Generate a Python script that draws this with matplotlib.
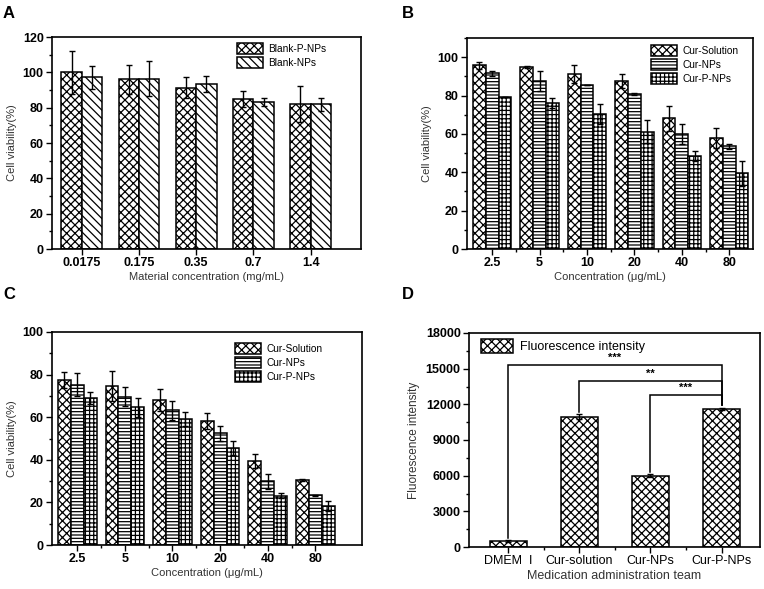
import numpy as np
import matplotlib
matplotlib.use("Agg")
import matplotlib.pyplot as plt
from matplotlib.ticker import MultipleLocator, FixedLocator

plt.rcParams['font.family'] = ['Liberation Sans', 'DejaVu Sans']
plt.rcParams['hatch.linewidth'] = 0.9
plt.rcParams['hatch.color'] = 'black'

# ---- panel A data ----
a_labels = ["0.0175", "0.175", "0.35", "0.7", "1.4"]
a_blank_p = [100.0, 96.0, 91.4, 85.0, 82.1]
a_blank_p_err = [12.2, 8.0, 5.8, 4.5, 10.0]
a_blank = [97.2, 96.4, 93.4, 83.3, 81.8]
a_blank_err = [6.5, 9.8, 4.7, 2.4, 3.8]

# ---- panel B data ----
b_labels = ["2.5", "5", "10", "20", "40", "80"]
b_sol = [95.7, 94.7, 91.1, 87.6, 68.1, 57.8]
b_sol_err = [2.0, 0.5, 4.6, 3.5, 6.7, 5.1]
b_nps = [91.6, 87.6, 85.7, 80.8, 59.8, 53.5]
b_nps_err = [1.3, 5.3, 0.0, 0.7, 5.2, 1.4]
b_pnps = [79.2, 76.1, 70.4, 61.2, 48.5, 39.4]
b_pnps_err = [0.2, 2.4, 5.0, 6.0, 2.4, 6.3]

# ---- panel C data ----
c_labels = ["2.5", "5", "10", "20", "40", "80"]
c_sol = [77.5, 74.7, 68.1, 58.3, 39.4, 30.6]
c_sol_err = [3.9, 6.9, 5.0, 3.9, 3.3, 0.5]
c_nps = [75.3, 69.7, 63.3, 52.4, 29.9, 23.4]
c_nps_err = [5.4, 4.5, 4.4, 3.7, 3.5, 0.3]
c_pnps = [69.2, 64.7, 59.1, 45.6, 23.1, 18.3]
c_pnps_err = [2.8, 4.4, 3.4, 3.2, 1.1, 2.5]

# ---- panel D data ----
d_labels = ["DMEM  I", "Cur-solution", "Cur-NPs", "Cur-P-NPs"]
d_vals = [500, 10950, 6000, 11600]
d_err = [60, 200, 100, 100]
# significance brackets
sig_left = [0, 1, 2]
sig_right = [3, 3, 3]
sig_height = [15300, 14000, 12800]
sig_left_foot = [760, 11340, 6300]
sig_right_foot = [11950, 11950, 11950]
sig_stars = ["***", "**", "***"]

W, H = 764, 589
fig = plt.figure(figsize=(W / 100, H / 100), dpi=100)


def make_axes(l, r, t, b):
    return fig.add_axes([l / W, 1 - b / H, (r - l) / W, (b - t) / H])


def style(ax, ylabel, xlabel, xbold=True, xsize=9):
    for s in ax.spines.values():
        s.set_linewidth(1.2)
    ax.tick_params(axis='both', which='major', direction='out', length=4, width=1,
                   labelsize=9, pad=2)
    ax.tick_params(axis='both', which='minor', direction='out', length=2.5, width=1)
    for t in ax.get_yticklabels():
        t.set_fontweight('bold')
    for t in ax.get_xticklabels():
        t.set_fontweight('bold' if xbold else 'normal')
        t.set_fontsize(xsize)
    ax.set_ylabel(ylabel, fontsize=8, color='#333333', labelpad=4)
    ax.set_xlabel(xlabel, fontsize=8, color='#333333', labelpad=2)


bar_kw = dict(edgecolor='black', linewidth=1.1, color='white')
err_kw = dict(fmt='none', ecolor='black', elinewidth=1, capsize=2.5, capthick=1)


def leg(ax, x, y, fs=7.3):
    ax.legend(loc='upper left', bbox_to_anchor=(x, y), frameon=False, fontsize=fs,
              borderpad=0, borderaxespad=0, handlelength=2.6, handleheight=1.3,
              labelspacing=0.3, handletextpad=0.5)


# ---------------- A ----------------
ax = make_axes(52, 361, 37, 249)
x = np.arange(len(a_labels))
w = 0.355
ax.bar(x - w / 2, a_blank_p, w, hatch='xxxx', label='Blank-P-NPs', **bar_kw)
ax.bar(x + w / 2, a_blank, w, hatch='\\\\\\\\', label='Blank-NPs', **bar_kw)
ax.errorbar(x - w / 2, a_blank_p, yerr=a_blank_p_err, **err_kw)
ax.errorbar(x + w / 2, a_blank, yerr=a_blank_err, **err_kw)
ax.set_xlim(-0.52, 4.88)
ax.set_ylim(0, 120)
ax.set_xticks(x)
ax.set_xticklabels(a_labels)
ax.yaxis.set_major_locator(MultipleLocator(20))
ax.yaxis.set_minor_locator(MultipleLocator(10))
ax.tick_params(axis='x', length=0)
style(ax, "Cell viability(%)", "Material concentration (mg/mL)")
leg(ax, 0.599, 0.972)


def three_series(ax, labels, s1, e1, s2, e2, s3, e3, xlim, ylim):
    x = np.arange(len(labels))
    w = 0.27
    ax.bar(x - w, s1, w, hatch='xxxx', label='Cur-Solution', **bar_kw)
    ax.bar(x, s2, w, hatch='-----', label='Cur-NPs', **bar_kw)
    ax.bar(x + w, s3, w, hatch='++++', label='Cur-P-NPs', **bar_kw)
    ax.errorbar(x - w, s1, yerr=e1, **err_kw)
    ax.errorbar(x, s2, yerr=e2, **err_kw)
    ax.errorbar(x + w, s3, yerr=e3, **err_kw)
    ax.set_xlim(*xlim)
    ax.set_ylim(*ylim)
    ax.set_xticks(x)
    ax.set_xticklabels(labels)
    ax.xaxis.set_minor_locator(FixedLocator(x[:-1] + 0.5))
    ax.yaxis.set_major_locator(MultipleLocator(20))
    ax.yaxis.set_minor_locator(MultipleLocator(10))


# ---------------- B ----------------
ax = make_axes(467, 753, 38, 249)
three_series(ax, b_labels, b_sol, b_sol_err, b_nps, b_nps_err, b_pnps, b_pnps_err,
             (-0.53, 5.5), (0, 110))
style(ax, "Cell viability(%)", "Concentration (μg/mL)")
leg(ax, 0.643, 0.967)

# ---------------- C ----------------
ax = make_axes(52, 362, 332, 545)
three_series(ax, c_labels, c_sol, c_sol_err, c_nps, c_nps_err, c_pnps, c_pnps_err,
             (-0.53, 5.98), (0, 100))
style(ax, "Cell viability(%)", "Concentration (μg/mL)")
leg(ax, 0.59, 0.948)

# ---------------- D ----------------
ax = make_axes(469, 760, 333, 547)
x = np.arange(len(d_labels))
ax.bar(x, d_vals, 0.52, hatch='xxxx', label='Fluorescence intensity', **bar_kw)
ax.errorbar(x, d_vals, yerr=d_err, **err_kw)
for l, r, h, lf, rf, st in zip(sig_left, sig_right, sig_height, sig_left_foot,
                               sig_right_foot, sig_stars):
    ax.plot([l, l, r, r], [lf, h, h, rf], color='black', lw=1.1, solid_joinstyle='miter')
    ax.text((l + r) / 2, h + 150, st, ha='center', va='bottom', fontsize=8,
            fontweight='bold')
ax.set_xlim(-0.55, 3.54)
ax.set_ylim(0, 18000)
ax.set_xticks(x)
ax.set_xticklabels(d_labels)
ax.yaxis.set_major_locator(MultipleLocator(3000))
ax.yaxis.set_minor_locator(MultipleLocator(1500))
ax.xaxis.set_minor_locator(FixedLocator(x[:-1] + 0.5))
style(ax, "Fluorescence intensity", "Medication administration team", xbold=False, xsize=9)
ax.xaxis.label.set_fontsize(9)
ax.yaxis.label.set_fontsize(8.5)
leg(ax, 0.041, 0.972, fs=9)

# panel letters
for lab, px, py in [("A", 3, 18), ("B", 402, 18), ("C", 3, 299), ("D", 402, 299)]:
    fig.text(px / W, 1 - py / H, lab, fontsize=12, fontweight='bold', ha='left',
             va='baseline')

fig.savefig("out.png", dpi=100, facecolor='white')
